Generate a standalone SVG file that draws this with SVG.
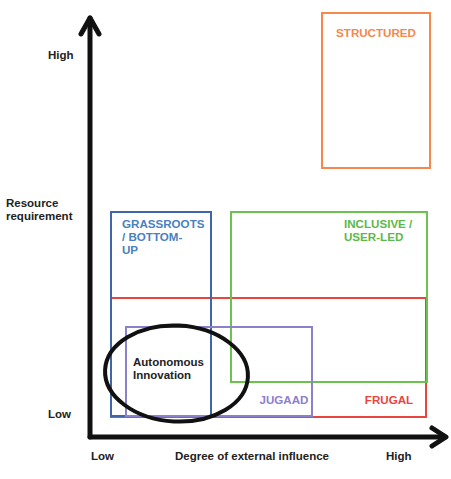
<svg xmlns="http://www.w3.org/2000/svg" width="451" height="479" viewBox="0 0 451 479">
<style>
text{font-family:"Liberation Sans",Arial,sans-serif;font-weight:bold}
.lab{font-size:11.5px;fill:#222}
.box{fill:none;stroke-width:2}
.bt{font-size:11.6px}
</style>
<rect width="451" height="479" fill="#fff"/>
<g id="structured"><rect class="box" x="322" y="13" width="108" height="155" stroke="#F4884E"/><text class="bt" x="376" y="37" text-anchor="middle" fill="#F4884E">STRUCTURED</text></g>
<g id="frugal"><rect class="box" x="111" y="298" width="315" height="119" stroke="#E8453F"/><text class="bt" x="389" y="404" text-anchor="middle" fill="#E8453F">FRUGAL</text></g>
<g id="grassroots"><rect class="box" x="111" y="212" width="100" height="204" stroke="#3D67A9"/><text class="bt" fill="#4A7FC0"><tspan x="122" y="228">GRASSROOTS</tspan><tspan x="122" y="241">/ BOTTOM-</tspan><tspan x="122" y="254">UP</tspan></text></g>
<g id="inclusive"><rect class="box" x="231" y="212" width="196" height="170" stroke="#6CC24F"/><text class="bt" fill="#5CB848"><tspan x="344" y="228">INCLUSIVE /</tspan><tspan x="344" y="241">USER-LED</tspan></text></g>
<g id="jugaad"><rect class="box" x="126" y="327" width="186" height="89" stroke="#8C80CC" stroke-width="1.5"/><text class="bt" x="284" y="404" text-anchor="middle" fill="#8C80CC">JUGAAD</text></g>
<g id="autonomous"><ellipse cx="176.5" cy="373.5" rx="71.5" ry="48" fill="none" stroke="#111" stroke-width="4" transform="rotate(3 176.5 373.5)"/><text class="lab" fill="#333"><tspan x="133" y="366">Autonomous</tspan><tspan x="133" y="379">Innovation</tspan></text></g>
<g id="axes" stroke="#111" fill="none" stroke-linecap="round" stroke-linejoin="round">
<line x1="90" y1="437" x2="90" y2="18" stroke-width="5"/>
<polyline points="81,34 90,18 99,34" stroke-width="5"/>
<line x1="90" y1="437" x2="445" y2="437" stroke-width="5"/>
<polyline points="432,428 446,437 432,446" stroke-width="5"/>
</g>
<g id="labels">
<text class="lab" x="48" y="59">High</text>
<text class="lab"><tspan x="6" y="207">Resource</tspan><tspan x="6" y="220">requirement</tspan></text>
<text class="lab" x="48" y="418">Low</text>
<text class="lab" x="91" y="460">Low</text>
<text class="lab" x="175" y="460">Degree of external influence</text>
<text class="lab" x="386" y="460">High</text>
</g>
</svg>
